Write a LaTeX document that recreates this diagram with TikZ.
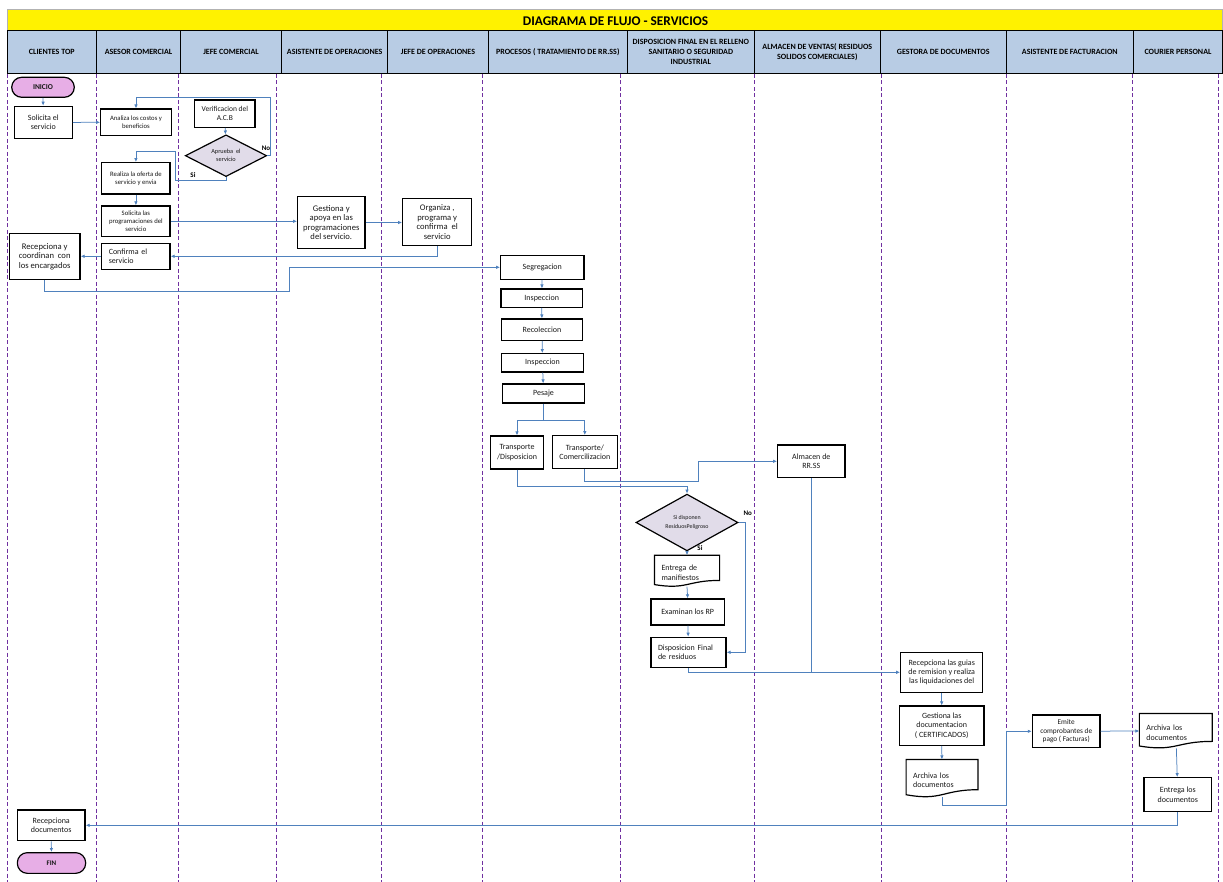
\documentclass[tikz,border=0pt]{standalone}
\usepackage{fontspec}
\setmainfont{Carlito}
\usetikzlibrary{arrows.meta,calc,shapes.geometric}
\definecolor{lanepurple}{HTML}{7030A0}
\definecolor{linkblue}{HTML}{4F81BD}
\definecolor{headblue}{HTML}{B8CCE4}
\definecolor{decfill}{HTML}{E1DCE9}
\definecolor{termfill}{HTML}{E7AEE6}
\tikzset{
  lane/.style={lanepurple,line width=0.9pt,dash pattern=on 4pt off 2.5pt},
  head/.style={draw=black,line width=1pt,fill=headblue,align=center,minimum height=42.6pt,inner sep=1pt,font=\bfseries\fontsize{8}{10.3}\selectfont},
  titletxt/.style={font=\bfseries\fontsize{13.3}{15}\selectfont,inner sep=0pt},
  box/.style={draw=black,line width=1.2pt,fill=white,inner sep=1pt,align=center,text=black!90,font=\fontsize{8}{9.4}\selectfont},
  lbox/.style={box,align=left,inner xsep=7pt},
  small/.style={font=\fontsize{6.7}{8}\selectfont},
  big/.style={font=\fontsize{8.6}{9.5}\selectfont},
  term/.style={box,fill=termfill,rounded corners=10pt,font=\bfseries\fontsize{7.5}{9}\selectfont},
  decision/.style={diamond,draw=black,line width=1.2pt,fill=decfill,inner sep=0pt,align=center,text=black!90},
  docbox/.style={box,draw=none,fill=none,align=left,inner xsep=6.5pt,text depth=6pt,
    append after command={\pgfextra{
      \draw[line width=1.2pt] (\tikzlastnode.north west) -- (\tikzlastnode.north east)
        -- ($(\tikzlastnode.south east)!0.198!(\tikzlastnode.north east)$)
        .. controls ($(\tikzlastnode.south)!0.198!(\tikzlastnode.north)$)
        and ($(\tikzlastnode.south)!-0.107!(\tikzlastnode.north)$)
        .. ($(\tikzlastnode.south west)!0.066!(\tikzlastnode.north west)$) -- cycle;
    }}},
  flow/.style={linkblue,line width=0.75pt,-{Latex[length=4pt,width=3.5pt]}},
  link/.style={linkblue,line width=0.75pt},
  lbl/.style={font=\bfseries\fontsize{7}{8}\selectfont,inner sep=0pt},
}

\begin{document}
\begin{tikzpicture}[x=1pt,y=-1pt]
  \useasboundingbox (0,0) rectangle (1223,882);
  % ---------------- title band ----------------
  \filldraw[fill=yellow,draw=gray!60,line width=0.6pt] (7,9.3) rectangle (1222.7,30.7);
  \node[titletxt] (title) at (615.5,21) {DIAGRAMA DE FLUJO - SERVICIOS};
  % ---------------- lane headers ----------------
  \node[head,minimum width=89.7pt] (hclient) at (51.85,52) {CLIENTES TOP};
  \node[head,minimum width=83.6pt] (hasesor) at (138.5,52) {ASESOR COMERCIAL};
  \node[head,minimum width=101.4pt] (hjefec) at (231,52) {JEFE COMERCIAL};
  \node[head,minimum width=106pt] (hasist) at (334.7,52) {ASISTENTE DE OPERACIONES};
  \node[head,minimum width=100.6pt] (hjefeo) at (438,52) {JEFE DE OPERACIONES};
  \node[head,minimum width=139pt] (hproc) at (557.8,52) {PROCESOS ( TRATAMIENTO DE RR.SS)};
  \node[head,minimum width=127pt] (hdisp) at (690.8,52) {DISPOSICION FINAL EN EL RELLENO\\SANITARIO O SEGURIDAD\\INDUSTRIAL};
  \node[head,minimum width=126pt] (halm) at (817.3,52) {ALMACEN DE VENTAS( RESIDUOS\\SOLIDOS COMERCIALES)};
  \node[head,minimum width=126pt] (hgest) at (943.3,52) {GESTORA DE DOCUMENTOS};
  \node[head,minimum width=127pt] (hfact) at (1069.8,52) {ASISTENTE DE FACTURACION};
  \node[head,minimum width=89.4pt] (hcour) at (1178,52) {COURIER PERSONAL};
  % ---------------- lane separators ----------------
  \draw[lane] (7.3,74) -- (7.3,882);
  \draw[lane] (96.7,74) -- (96.7,882);
  \draw[lane] (178,74) -- (178,882);
  \draw[lane] (276,74) -- (276,882);
  \draw[lane] (381,74) -- (381,882);
  \draw[lane] (482.3,74) -- (482.3,882);
  \draw[lane] (620.7,74) -- (620.7,882);
  \draw[lane] (754.3,74) -- (754.3,882);
  \draw[lane] (881.3,74) -- (881.3,882);
  \draw[lane] (1006.3,74) -- (1006.3,882);
  \draw[lane] (1132.3,74) -- (1132.3,882);
  \draw[lane] (1218.7,74) -- (1218.7,882);
  % ---------------- clientes / asesor / jefe comercial ----------------
  \node[term,minimum width=62.6pt,minimum height=20pt] (ini) at (43,87.3) {INICIO};
  \node[box,minimum width=58pt,minimum height=32.4pt] (solicita) at (43.3,122.5) {Solicita el\\servicio};
  \node[box,small,minimum width=70.6pt,minimum height=26.3pt] (analiza) at (136,122.2) {Analiza los costos y\\beneficios};
  \node[box,minimum width=60.3pt,minimum height=27.3pt,font=\fontsize{7.5}{9.4}\selectfont] (verif) at (224.9,113.7) {Verificacion del\\A.C.B};
  \node[decision,minimum width=81.4pt,minimum height=28.7pt,font=\fontsize{6.3}{8}\selectfont] (aprueba) at (226,155.7) {Aprueba~~el\\servicio};
  \node[lbl] (nouno) at (266,148.7) {No};
  \node[lbl] (siuno) at (193,175) {Si};
  \node[box,small,minimum width=68.3pt,minimum height=31.3pt] (oferta) at (135.9,178.3) {Realiza la oferta de\\servicio y envia};
  \node[box,small,minimum width=68.3pt,minimum height=30.7pt] (solprog) at (135.9,221.3) {Solicita las\\programaciones del\\servicio};
  \node[lbox,minimum width=68.3pt,minimum height=26pt,text width=54.3pt] (confirma) at (135.9,256.3) {Confirma el\\servicio};
  \node[box,big,minimum width=70.7pt,minimum height=46pt] (recep) at (44.7,256.3) {Recepciona y\\coordinan~~con\\los encargados};
  % ---------------- operaciones ----------------
  \node[box,big,minimum width=67.3pt,minimum height=51.7pt] (gestiona) at (331.3,222.5) {Gestiona y\\apoya en las\\programaciones\\del servicio.};
  \node[box,big,minimum width=69pt,minimum height=47.4pt] (organiza) at (437.2,222) {Organiza ,\\programa y\\confirma~~el\\servicio};
  % ---------------- procesos ----------------
  \node[box,minimum width=83.3pt,minimum height=24pt] (segreg) at (542.3,267.3) {Segregacion};
  \node[box,minimum width=81.3pt,minimum height=18.3pt] (insp1) at (541.7,298.2) {Inspeccion};
  \node[box,minimum width=81.3pt,minimum height=21.3pt] (recol) at (542,329.7) {Recoleccion};
  \node[box,minimum width=81.6pt,minimum height=18.3pt] (insp2) at (542.5,362.8) {Inspeccion};
  \node[box,minimum width=81.6pt,minimum height=19pt] (pesaje) at (543.5,393.5) {Pesaje};
  \coordinate (split) at (543.5,420);
  \node[box,minimum width=52.6pt,minimum height=33pt] (transdisp) at (517,452.5) {Transporte\\/Disposicion};
  \node[box,minimum width=65pt,minimum height=32.6pt] (transcom) at (584.8,452) {Transporte/\\Comercilizacion};
  % ---------------- disposicion final / almacen ----------------
  \node[box,minimum width=67.3pt,minimum height=32.7pt] (almacen) at (811.3,461.3) {Almacen de\\RR.SS};
  \node[decision,minimum width=102pt,minimum height=41.6pt,font=\fontsize{5.9}{8.5}\selectfont] (dispone) at (687,522.5) {Si disponen\\ResiduosPeligroso};
  \node[lbl] (nodos) at (747.7,513.3) {No};
  \node[lbl] (sidos) at (700,548.3) {Si};
  \node[docbox,minimum width=64pt,minimum height=30.3pt,text width=51pt] (manif) at (687,570.9) {Entrega de\\manifiestos};
  \node[box,minimum width=73.3pt,minimum height=26pt] (examinan) at (687.7,612) {Examinan los RP};
  \node[lbox,minimum width=75pt,minimum height=30pt,text width=61pt] (dispfinal) at (688.5,652.3) {Disposicion Final\\de residuos};
  % ---------------- gestora / facturacion / courier ----------------
  \node[box,minimum width=82pt,minimum height=40pt] (guias) at (941.7,672.3) {Recepciona las guias\\de remision y realiza\\las liquidaciones del};
  \node[box,minimum width=84.7pt,minimum height=39.3pt] (gestdoc) at (941.7,725.7) {Gestiona las\\documentacion\\( CERTIFICADOS)};
  \node[docbox,minimum width=70.6pt,minimum height=36.6pt,text width=57.6pt] (archiva1) at (942,778.3) {Archiva los\\documentos};
  \node[box,minimum width=67.7pt,minimum height=32.7pt,font=\fontsize{7.3}{8.8}\selectfont] (emite) at (1066.2,731.3) {Emite\\comprobantes de\\pago ( Facturas)};
  \node[docbox,minimum width=71.7pt,minimum height=33.7pt,text width=58.7pt] (archiva2) at (1175.8,730.85) {Archiva los\\documentos};
  \node[box,minimum width=67.7pt,minimum height=34pt] (entrega) at (1177.8,794.7) {Entrega los\\documentos};
  \node[box,minimum width=67.7pt,minimum height=30.7pt] (recdoc) at (51.2,825.3) {Recepciona\\documentos};
  \node[term,minimum width=68.3pt,minimum height=20.7pt,font=\bfseries\fontsize{7}{8}\selectfont] (fin) at (51.5,863) {FIN};
  % ---------------- connectors ----------------
  \draw[flow] (ini) -- (solicita);
  \draw[flow] (solicita) -- (analiza);
  \draw[flow] (verif) -- (aprueba);
  \draw[flow] (aprueba.east) -| (270.5,97.3) -| (analiza.north);
  \draw[flow] (aprueba.south) |- (175.7,180) |- (135.9,151.7) -- (oferta.north);
  \draw[flow] (oferta) -- (solprog);
  \draw[flow] (solprog.east) -- (solprog.east -| gestiona.west);
  \draw[flow] (gestiona.east) -- (gestiona.east -| organiza.west);
  \draw[flow] (organiza.south) |- (confirma.east);
  \draw[flow] (confirma) -- (recep);
  \draw[flow] (recep.south) |- (289.3,291) |- (segreg.west);
  \draw[flow] (segreg) -- (insp1);
  \draw[flow] (insp1) -- (recol);
  \draw[flow] (recol) -- (insp2);
  \draw[flow] (insp2) -- (pesaje);
  \draw[link] (pesaje.south) -- (split);
  \draw[flow] (split) -| (transdisp.north);
  \draw[flow] (split) -| (transcom.north);
  \draw[flow] (transdisp.south) -- ++(0,16.3) -| (dispone.north);
  \draw[flow] (transcom.south) -- ++(0,12.3) -| (698.3,461.3) -- (almacen.west);
  \draw[flow] (dispone.south) -- (manif.north);
  \draw[flow] (dispone.east) -- ++(6.3,0) |- (dispfinal.east);
  \draw[flow] (manif.south) -- (examinan.north);
  \draw[flow] (examinan) -- (dispfinal);
  \draw[flow] (dispfinal.south) |- (guias.west);
  \draw[link] (almacen.south) -- (almacen.south |- guias.west);
  \draw[flow] (guias) -- (gestdoc);
  \draw[flow] (gestdoc) -- (archiva1);
  \draw[flow] (archiva1.south) |- (1006.3,805) |- (emite.west);
  \draw[flow] (emite) -- (archiva2);
  \draw[flow] (archiva2) -- (entrega);
  \draw[flow] (entrega.south) |- (recdoc.east);
  \draw[flow] (recdoc) -- (fin);
\end{tikzpicture}
\end{document}
